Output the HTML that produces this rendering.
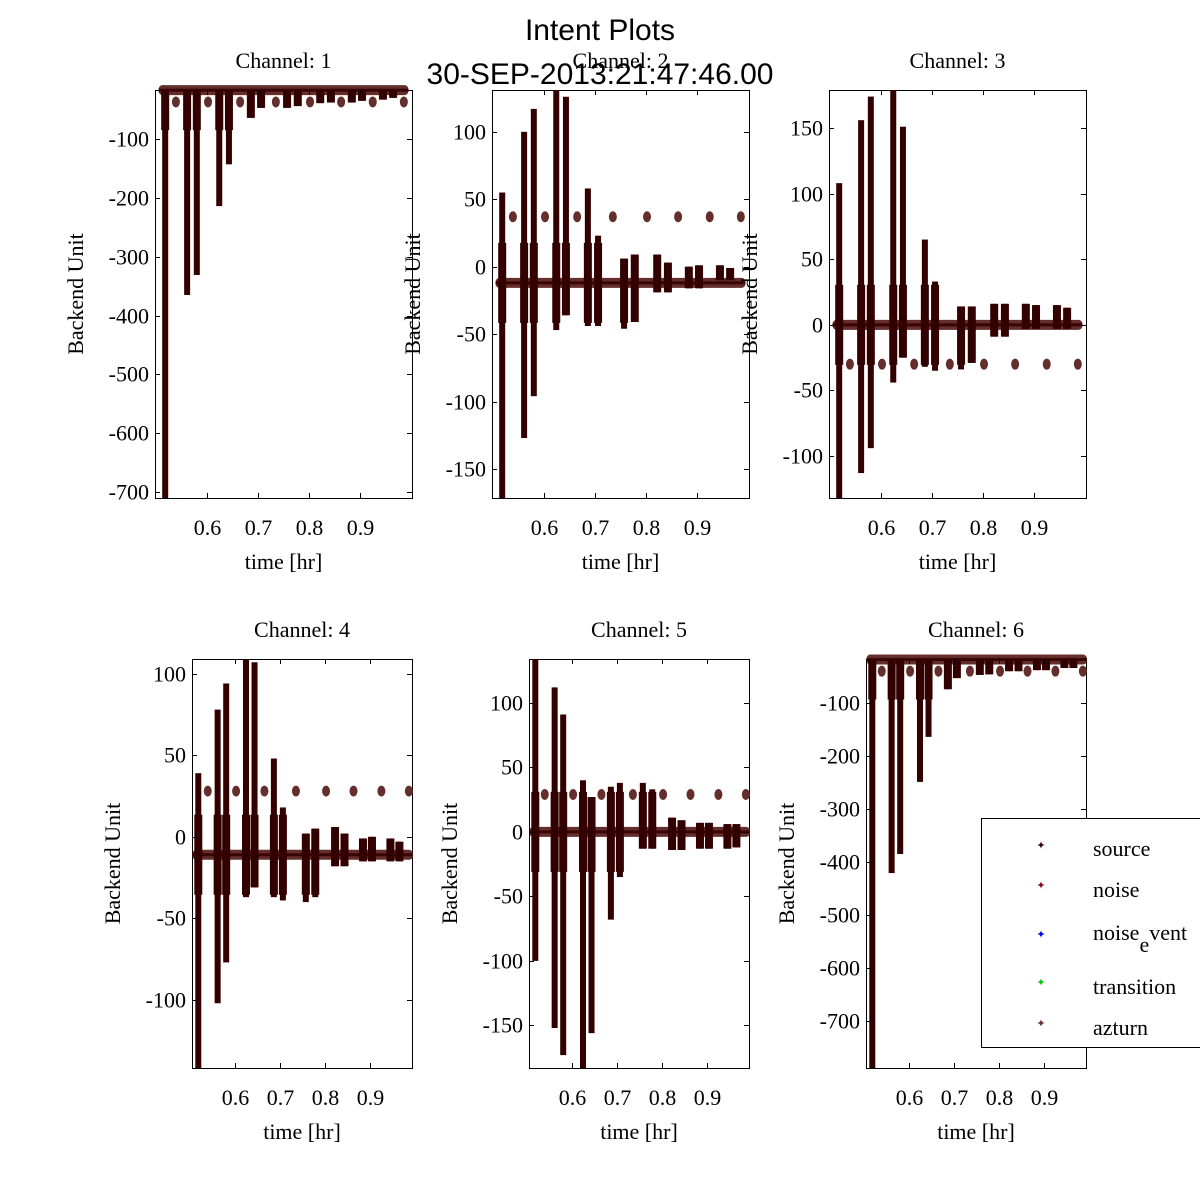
<!DOCTYPE html>
<html><head><meta charset="utf-8"><style>
html,body{margin:0;padding:0;background:#fff;}
svg{display:block;}
.t{font-family:"Liberation Serif",serif;font-size:22px;fill:#000;}
.h{font-family:"Liberation Sans",sans-serif;font-size:30px;fill:#000;}
</style></head><body>
<svg id="fig" width="1200" height="1200" viewBox="0 0 1200 1200" xmlns="http://www.w3.org/2000/svg">
<rect width="1200" height="1200" fill="#fff"/>
<text class="h" x="600" y="40" text-anchor="middle">Intent Plots</text>
<g id="panels"></g>
<text class="h" x="600" y="84" text-anchor="middle">30-SEP-2013:21:47:46.00</text>
<g>
<rect x="981.5" y="818.5" width="230" height="229" fill="#fff" stroke="#000" stroke-width="1"/>
<g><text x="1041" y="849" font-size="11" fill="#3a0a0a" text-anchor="middle">✦</text><text class="t" x="1093" y="856">source</text></g>
<g><text x="1041" y="889" font-size="11" fill="#8a0a1a" text-anchor="middle">✦</text><text class="t" x="1093" y="897">noise</text></g>
<g><text x="1041" y="938" font-size="11" fill="#0000ff" text-anchor="middle">✦</text><text class="t" x="1093" y="940">noise<tspan dy="12">e</tspan><tspan dy="-12">vent</tspan></text></g>
<g><text x="1041" y="986" font-size="11" fill="#00cc00" text-anchor="middle">✦</text><text class="t" x="1093" y="994">transition</text></g>
<g><text x="1041" y="1027" font-size="11" fill="#6a3030" text-anchor="middle">✦</text><text class="t" x="1093" y="1035">azturn</text></g>
</g>
</svg>
<script>
const times = [0.518,0.561,0.580,0.624,0.643,0.686,0.706,0.757,0.778,0.822,0.843,0.884,0.904,0.945,0.965];
const clusterTimes = [0.539,0.602,0.665,0.735,0.802,0.863,0.925,0.986];
const xTicks = [0.6,0.7,0.8,0.9];
const xTickLabels = ['0.6','0.7','0.8','0.9'];
const channels = ['Channel: 1','Channel: 2','Channel: 3','Channel: 4','Channel: 5','Channel: 6'];
const baselines = [-17,-12,0,-11,0,-18];
const clusterVals = [-37,37,-30,28,29,-40];
const top1 = [-17,-17,-17,-17,-17,-17,-17,-17,-17,-17,-17,-17,-17,-17,-17];
const bot1 = [-800,-365,-331,-214,-143,-64,-47,-47,-44,-39,-38,-38,-35,-33,-30];
const top2 = [55,100,117,131,126,58,23,6,9,9,3,0,1,1,-1];
const bot2 = [-200,-127,-96,-47,-36,-44,-44,-46,-41,-19,-19,-16,-16,-10,-10];
const top3 = [108,156,174,180,151,65,33,14,14,16,16,16,15,15,13];
const bot3 = [-200,-113,-94,-44,-25,-32,-35,-34,-29,-9,-9,-3,-3,-3,-3];
const top4 = [39,78,94,110,107,48,18,2,5,6,2,-1,0,-1,-3];
const bot4 = [-200,-102,-77,-37,-31,-37,-39,-40,-37,-18,-18,-15,-15,-15,-15];
const top5 = [135,112,91,40,27,35,38,38,33,11,9,7,7,6,6];
const bot5 = [-100,-152,-173,-200,-156,-68,-35,-13,-13,-14,-14,-13,-13,-13,-12];
const top6 = [-18,-18,-18,-18,-18,-18,-18,-18,-18,-18,-18,-18,-18,-18,-18];
const bot6 = [-800,-421,-385,-249,-164,-74,-53,-47,-46,-40,-40,-38,-38,-34,-34];
const yTicks1 = [-100,-200,-300,-400,-500,-600,-700];
const yTicks2 = [100,50,0,-50,-100,-150];
const yTicks3 = [150,100,50,0,-50,-100];
const yTicks4 = [100,50,0,-50,-100];
const yTicks5 = [100,50,0,-50,-100,-150];
const yTicks6 = [-100,-200,-300,-400,-500,-600,-700];
const yDomains = [[-710,-16.7],[-171.5,131],[-132,179],[-141.7,109],[-183,134],[-789,-17]];
const xDomains = [[0.498,1.002],[0.498,1.002],[0.498,1.002],[0.504,0.993],[0.504,0.993],[0.504,0.993]];

const tops=[top1,top2,top3,top4,top5,top6], bots=[bot1,bot2,bot3,bot4,bot5,bot6];
const yTickSets=[yTicks1,yTicks2,yTicks3,yTicks4,yTicks5,yTicks6];
const boxes=[[155,90,257,408],[492,90,257,408],[829,90,257,408],[192,659,220,409],[529,659,220,409],[866,659,220,409]];
const NS='http://www.w3.org/2000/svg';
const root=document.getElementById('panels');
function mk(tag,attrs,parent){const e=document.createElementNS(NS,tag);for(const k in attrs)e.setAttribute(k,attrs[k]);parent.appendChild(e);return e;}
for(let p=0;p<6;p++){
  const [x0,y0,w,h]=boxes[p];
  const xd=xDomains[p], yd=yDomains[p];
  const xs=v=>x0+(v-xd[0])/(xd[1]-xd[0])*w;
  const ys=v=>y0+h-(v-yd[0])/(yd[1]-yd[0])*h;
  const cl=v=>Math.max(yd[0],Math.min(yd[1],v));
  const g=mk('g',{},root);
  
  
  const ax=mk('rect',{x:x0+0.5,y:y0+0.5,width:w,height:h,fill:'#fff',stroke:'#000','stroke-width':1},g);
  
  
  const by=ys(baselines[p]);
  const band=mk('rect',{x:xs(0.505),y:by-5,width:xs(0.995)-xs(0.505),height:10,fill:'#632e2b',rx:4},g);
  
  
  mk('rect',{x:xs(0.505),y:by-1.5,width:xs(0.995)-xs(0.505),height:3,fill:'#3a0505'},g);
  clusterTimes.forEach((t,i)=>{
    const c=mk('ellipse',{cx:xs(t),cy:ys(clusterVals[p]),rx:4,ry:5.5,fill:'#632e2b'},g);
    
    
  });
  times.forEach((t,i)=>{
    const yt=ys(cl(tops[p][i])), yb=ys(cl(bots[p][i]));
    const s=mk('rect',{x:xs(t)-3,y:Math.min(yt,yb),width:6,height:Math.abs(yb-yt),fill:'#330000'},g);
    
    
    const yt2=Math.max(Math.min(yt,yb),by-40), yb2=Math.min(Math.max(yt,yb),by+40);
    if(yb2>yt2){
      const s2=mk('rect',{x:xs(t)-4,y:yt2,width:8,height:yb2-yt2,fill:'#330000'},g);
      
      
    }
  });
  xTicks.forEach((t,i)=>{
    const x=Math.round(xs(t))+0.5;
    mk('line',{x1:x,x2:x,y1:y0+h,y2:y0+h-5,stroke:'#000'},g);
    mk('line',{x1:x,x2:x,y1:y0,y2:y0+5,stroke:'#000'},g);
    const l=mk('text',{class:'t',x:x,y:y0+h+37,'text-anchor':'middle'},g);
    l.textContent=xTickLabels[i];
    
    
  });
  yTickSets[p].forEach(v=>{
    const y=Math.round(ys(v))+0.5;
    mk('line',{x1:x0,x2:x0+5,y1:y,y2:y,stroke:'#000'},g);
    mk('line',{x1:x0+w,x2:x0+w-5,y1:y,y2:y,stroke:'#000'},g);
    const l=mk('text',{class:'t',x:x0-6,y:y+7,'text-anchor':'end'},g);
    l.textContent=String(v);
    
    
  });
  const ti=mk('text',{class:'t',x:x0+w/2,y:y0-22,'text-anchor':'middle'},g);
  ti.textContent=channels[p];
  
  
  const xl=mk('text',{class:'t',x:x0+w/2,y:y0+h+71,'text-anchor':'middle'},g);
  xl.textContent='time [hr]';
  
  
  const lx=x0-72, ly=y0+h/2;
  const yl=mk('text',{class:'t',x:lx,y:ly,'text-anchor':'middle',transform:'rotate(-90 '+lx+' '+ly+')'},g);
  yl.textContent='Backend Unit';
  
  
}
</script>
</body></html>
